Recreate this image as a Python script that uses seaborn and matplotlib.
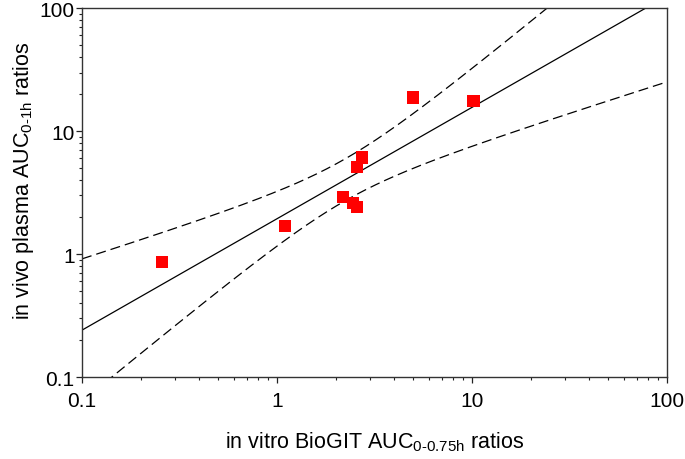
import numpy as np
import pandas as pd
import matplotlib
matplotlib.use("Agg")
import matplotlib.pyplot as plt
import matplotlib.ticker as mticker
import seaborn as sns

# data
invitro_ratio = [0.257, 1.10, 2.18, 2.45, 2.57, 2.57, 2.73, 5.00, 10.2]
invivo_ratio = [0.86, 1.69, 2.90, 2.60, 2.41, 5.13, 6.11, 18.8, 17.6]
x_ticks = [0.1, 1, 10, 100]
y_ticks = [0.1, 1, 10, 100]
x_tick_labels = ["0.1", "1", "10", "100"]
y_tick_labels = ["0.1", "1", "10", "100"]

sns.set_theme(style="white")
plt.rcParams['font.family'] = ['Liberation Sans', 'DejaVu Sans']
plt.rcParams['mathtext.fontset'] = 'custom'
plt.rcParams['mathtext.rm'] = 'Liberation Sans'
plt.rcParams['mathtext.it'] = 'Liberation Sans'

df = pd.DataFrame({"x": invitro_ratio, "y": invivo_ratio})

# linear regression in log-log space with 95% confidence band of the mean
lx = np.log10(df["x"].to_numpy())
ly = np.log10(df["y"].to_numpy())
n = len(lx)
slope, intercept = np.polyfit(lx, ly, 1)
resid = ly - (slope * lx + intercept)
s = np.sqrt(np.sum(resid ** 2) / (n - 2))
sxx = np.sum((lx - lx.mean()) ** 2)
t_crit = 2.3646  # t(0.975, df=7)
gx = np.linspace(-1, 2, 300)
fit = slope * gx + intercept
half = t_crit * s * np.sqrt(1.0 / n + (gx - lx.mean()) ** 2 / sxx)
lines = pd.DataFrame({"x": 10 ** gx, "fit": 10 ** fit,
                      "lo": 10 ** (fit - half), "hi": 10 ** (fit + half)})

fig = plt.figure(figsize=(6.85, 4.6), dpi=100)
ax = fig.add_axes([0.1197, 0.178, 0.854, 0.802])

sns.lineplot(data=lines, x="x", y="fit", ax=ax, color="black", lw=0.9)
sns.lineplot(data=lines, x="x", y="hi", ax=ax, color="black", lw=0.9,
             linestyle=(0, (8, 4)))
sns.lineplot(data=lines, x="x", y="lo", ax=ax, color="black", lw=0.9,
             linestyle=(0, (8, 4)))
sns.scatterplot(data=df, x="x", y="y", ax=ax, marker="s", s=80, color="#FF0000",
                edgecolor="none", zorder=5)

ax.set_xscale("log")
ax.set_yscale("log")
ax.set_xlim(0.1, 100)
ax.set_ylim(0.1, 100)
ax.set_xticks(x_ticks)
ax.set_xticklabels(x_tick_labels)
ax.set_yticks(y_ticks)
ax.set_yticklabels(y_tick_labels)
ax.xaxis.set_minor_locator(mticker.LogLocator(base=10, subs=np.arange(2, 10)))
ax.yaxis.set_minor_locator(mticker.LogLocator(base=10, subs=np.arange(2, 10)))
ax.xaxis.set_minor_formatter(mticker.NullFormatter())
ax.yaxis.set_minor_formatter(mticker.NullFormatter())
ax.tick_params(which="major", direction="out", length=4.5, width=0.9, color="#222222",
               labelsize=15, bottom=True, left=True, top=False, right=False,
               labelcolor="black")
ax.tick_params(which="minor", direction="out", length=2.5, width=0.8, color="#222222",
               bottom=True, left=True, top=False, right=False)
ax.tick_params(axis="x", which="major", pad=5.5)
ax.tick_params(axis="y", which="major", pad=0.8)
for sp in ax.spines.values():
    sp.set_color("#333333")
    sp.set_linewidth(1.0)

ax.set_xlabel(r"in vitro BioGIT AUC$_{\mathregular{0\text{-}0.75h}}$ ratios", fontsize=15.5,
              color="black")
ax.set_ylabel(r"in vivo plasma AUC$_{\mathregular{0\text{-}1h}}$ ratios", fontsize=15.5,
              color="black")
ax.xaxis.set_label_coords(0.5, -0.143)
ax.yaxis.set_label_coords(-0.078, 0.534)

fig.savefig("out.png", dpi=100)
